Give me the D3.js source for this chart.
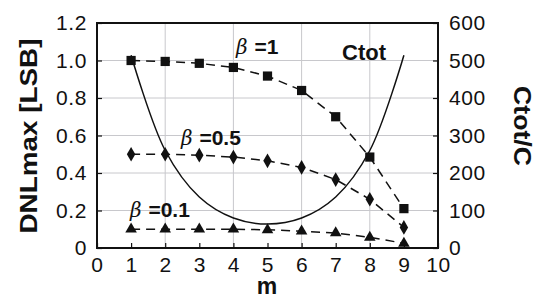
<!DOCTYPE html>
<html>
<head>
<meta charset="utf-8">
<script src="https://cdn.jsdelivr.net/npm/d3@7"></script>
<style>
  html, body { margin: 0; padding: 0; background: #fff; }
  svg text { font-family: "Liberation Sans", Arial, sans-serif; fill: #111; }
</style>
</head>
<body>
<div id="chart"></div>
<script>
// chart data
const mValues = [1, 2, 3, 4, 5, 6, 7, 8, 9];
const dnlBeta1 = [1.0, 0.995, 0.985, 0.963, 0.917, 0.84, 0.70, 0.485, 0.21];
const dnlBeta05 = [0.5, 0.5, 0.495, 0.485, 0.465, 0.43, 0.365, 0.26, 0.11];
const dnlBeta01 = [0.1, 0.1, 0.1, 0.1, 0.097, 0.09, 0.08, 0.057, 0.025];
const ctotRatio = [514, 260, 136, 80, 64, 80, 136, 260, 514];
const xTicks = [0, 1, 2, 3, 4, 5, 6, 7, 8, 9, 10];
const yLeftTicks = [0, 0.2, 0.4, 0.6, 0.8, 1.0, 1.2];
const yRightTicks = [0, 100, 200, 300, 400, 500, 600];

const width = 544, height = 298;
const margin = { top: 23, right: 106, bottom: 50, left: 97 };
const plotW = width - margin.left - margin.right;
const plotH = height - margin.top - margin.bottom;

const svg = d3.select('#chart').append('svg')
    .attr('width', width)
    .attr('height', height);

const g = svg.append('g')
    .attr('transform', 'translate(' + margin.left + ',' + margin.top + ')');

// scales
const xScale = d3.scaleLinear().domain([0, 10]).range([0, plotW]);
const yScale = d3.scaleLinear().domain([0, 1.2]).range([plotH, 0]);
const y2Scale = d3.scaleLinear().domain([0, 600]).range([plotH, 0]);

// grid
g.append('g').selectAll('line')
    .data([0.2, 0.4, 0.6, 0.8, 1.0])
    .join('line')
    .attr('x1', 0).attr('x2', plotW)
    .attr('y1', d => yScale(d)).attr('y2', d => yScale(d))
    .attr('stroke', '#c8c8cc').attr('stroke-width', 1);

g.append('g').selectAll('line')
    .data([2, 4, 6, 8])
    .join('line')
    .attr('x1', d => xScale(d)).attr('x2', d => xScale(d))
    .attr('y1', 0).attr('y2', plotH)
    .attr('stroke', '#c8c8cc').attr('stroke-width', 1);

// axes (ticks inward)
const fmtLeft = d => d === 0 ? '0' : d.toFixed(1);
const xAxis = d3.axisBottom(xScale).tickValues(xTicks).tickSize(-5).tickPadding(10).tickSizeOuter(0);
const yAxis = d3.axisLeft(yScale).tickValues(yLeftTicks).tickFormat(fmtLeft).tickSize(-5).tickPadding(10).tickSizeOuter(0);
const y2Axis = d3.axisRight(y2Scale).tickValues(yRightTicks).tickSize(-5).tickPadding(11).tickSizeOuter(0);

const gx = g.append('g').attr('transform', 'translate(0,' + plotH + ')').call(xAxis);
const gy = g.append('g').call(yAxis);
const gy2 = g.append('g').attr('transform', 'translate(' + plotW + ',0)').call(y2Axis);

[gx, gy, gy2].forEach(a => {
  a.select('.domain').remove();
  a.selectAll('line').attr('stroke', '#111').attr('stroke-width', 1.2);
  a.selectAll('text').attr('font-size', 21).attr('fill', '#111')
      .attr('letter-spacing', 0.6)
      .style('font-family', '"Liberation Sans", Arial, sans-serif');
});
gx.selectAll('text').attr('dy', '0.66em');

// frame
g.append('rect')
    .attr('x', 0).attr('y', 0)
    .attr('width', plotW).attr('height', plotH)
    .attr('fill', 'none').attr('stroke', '#111').attr('stroke-width', 2);

// Ctot curve
const ctotLine = d3.line()
    .x((d, i) => xScale(mValues[i]))
    .y(d => y2Scale(d))
    .curve(d3.curveCatmullRom.alpha(0.5));
g.append('path')
    .datum(ctotRatio)
    .attr('d', ctotLine)
    .attr('fill', 'none').attr('stroke', '#111').attr('stroke-width', 1.5);

// DNL series
const dnlLine = d3.line()
    .x((d, i) => xScale(mValues[i]))
    .y(d => yScale(d));

const series = [
  { values: dnlBeta1, symbol: d3.symbolSquare, size: 85 },
  { values: dnlBeta05, symbol: d3.symbolDiamond, size: 62 },
  { values: dnlBeta01, symbol: d3.symbolTriangle, size: 58 }
];

series.forEach(s => {
  g.append('path')
      .datum(s.values)
      .attr('d', dnlLine)
      .attr('fill', 'none').attr('stroke', '#111')
      .attr('stroke-width', 1.5)
      .attr('stroke-dasharray', '9,6');
  g.append('g').selectAll('path')
      .data(s.values)
      .join('path')
      .attr('d', d3.symbol().type(s.symbol).size(s.size))
      .attr('transform', (d, i) => 'translate(' + xScale(mValues[i]) + ',' + yScale(d) + ')')
      .attr('fill', '#111');
});

// annotations
function betaLabel(x, y, val) {
  const t = svg.append('text').attr('x', x).attr('y', y).attr('font-size', 21);
  t.append('tspan').text('β').attr('font-style', 'italic').attr('font-weight', 'normal')
      .style('font-family', '"DejaVu Serif", serif').attr('font-size', 20);
  t.append('tspan').text(' =' + val).attr('font-weight', 'bold').attr('dx', 1);
}
betaLabel(236, 54, '1');
betaLabel(181, 145, '0.5');
betaLabel(130, 217, '0.1');

svg.append('text').attr('x', 342).attr('y', 60)
    .attr('font-size', 22).attr('font-weight', 'bold').text('Ctot');

// axis titles
svg.append('text')
    .attr('transform', 'translate(37,136) rotate(-90)')
    .attr('text-anchor', 'middle')
    .attr('font-size', 23).attr('font-weight', 'bold')
    .attr('textLength', 195).attr('lengthAdjust', 'spacingAndGlyphs')
    .text('DNLmax  [LSB]');

svg.append('text')
    .attr('transform', 'translate(514,126) rotate(90)')
    .attr('text-anchor', 'middle')
    .attr('font-size', 24).attr('font-weight', 'bold')
    .attr('textLength', 80).attr('lengthAdjust', 'spacingAndGlyphs')
    .text('Ctot/C');

svg.append('text')
    .attr('x', 267).attr('y', 294)
    .attr('text-anchor', 'middle')
    .attr('font-size', 23).attr('font-weight', 'bold')
    .text('m');
</script>
</body>
</html>
